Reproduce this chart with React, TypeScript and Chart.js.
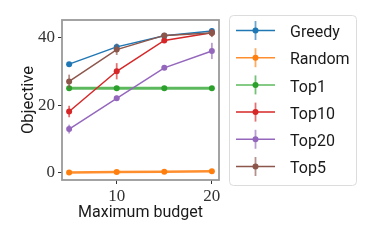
import React, { useEffect, useRef } from "react";
import { Chart, registerables } from "chart.js";

Chart.register(...registerables);

const budgets = [5, 10, 15, 20];
const seriesNames = ["Greedy", "Random", "Top1", "Top10", "Top20", "Top5"];
const greedy = [32.1, 37.2, 40.5, 41.9];
const greedyErr = [0.6, 1.0, 0.6, 0.8];
const random = [0.1, 0.2, 0.3, 0.4];
const randomErr = [0.1, 0.1, 0.1, 0.1];
const top1 = [25, 25, 25, 25];
const top1Err = [0.2, 0.2, 0.2, 0.2];
const top10 = [18.1, 30.0, 39.1, 41.4];
const top10Err = [1.7, 2.4, 0.7, 1.1];
const top20 = [12.9, 22.0, 31.0, 36.0];
const top20Err = [1.3, 0.8, 0.6, 2.4];
const top5 = [27.0, 36.4, 40.6, 41.3];
const top5Err = [2.0, 1.6, 0.6, 1.2];
const yTicks = [0, 20, 40];
const xTicks = [10, 20];

const seriesValues = [greedy, random, top1, top10, top20, top5];
const seriesErrors = [greedyErr, randomErr, top1Err, top10Err, top20Err, top5Err];
const colors = ["#1f77b4", "#ff7f0e", "#2ca02c", "#d62728", "#9467bd", "#8c564b"];
const lineColors = ["#1f77b4", "#ff8f2e", "#5cb85c", "#d62728", "#9467bd", "#8c564b"];
const lineWidths = [1.5, 2.5, 3, 1.5, 1.5, 1.5];

const SANS = "Roboto";
const SERIF = "Liberation Serif";

function rgba(hex: string, a: number) {
  const n = parseInt(hex.slice(1), 16);
  return `rgba(${(n >> 16) & 255},${(n >> 8) & 255},${n & 255},${a})`;
}

const errorBarPlugin = {
  id: "errorBars",
  beforeDatasetDraw(chart: any, args: any) {
    const i = args.index;
    const errs = seriesErrors[i];
    if (!errs) return;
    const ctx = chart.ctx;
    const xs = chart.scales.x;
    const ys = chart.scales.y;
    ctx.save();
    ctx.strokeStyle = rgba(colors[i], 0.65);
    ctx.lineWidth = 1.8;
    seriesValues[i].forEach((v, j) => {
      const px = xs.getPixelForValue(budgets[j]);
      ctx.beginPath();
      ctx.moveTo(px, ys.getPixelForValue(v - errs[j]));
      ctx.lineTo(px, ys.getPixelForValue(v + errs[j]));
      ctx.stroke();
    });
    ctx.restore();
  },
};

const frameLegendPlugin = {
  id: "frameLegend",
  afterDraw(chart: any) {
    const ctx = chart.ctx;
    const a = chart.chartArea;
    ctx.save();
    ctx.strokeStyle = "#9a9a9a";
    ctx.lineWidth = 1.8;
    ctx.strokeRect(a.left, a.top, a.right - a.left, a.bottom - a.top);

    // legend box
    const lx = 229.5, ly = 15.5, lw = 127, lh = 170, r = 4;
    ctx.beginPath();
    ctx.moveTo(lx + r, ly);
    ctx.arcTo(lx + lw, ly, lx + lw, ly + lh, r);
    ctx.arcTo(lx + lw, ly + lh, lx, ly + lh, r);
    ctx.arcTo(lx, ly + lh, lx, ly, r);
    ctx.arcTo(lx, ly, lx + lw, ly, r);
    ctx.closePath();
    ctx.fillStyle = "rgba(255,255,255,0.8)";
    ctx.fill();
    ctx.strokeStyle = "#dcdcdc";
    ctx.lineWidth = 1;
    ctx.stroke();

    seriesNames.forEach((name, i) => {
      const y = 30.5 + i * 27.2;
      ctx.strokeStyle = rgba(colors[i], 0.65);
      ctx.lineWidth = 1.8;
      ctx.beginPath();
      ctx.moveTo(255.5, y - 9.5);
      ctx.lineTo(255.5, y + 9.5);
      ctx.stroke();
      ctx.strokeStyle = lineColors[i];
      ctx.lineWidth = 1.5;
      ctx.beginPath();
      ctx.moveTo(236, y);
      ctx.lineTo(275, y);
      ctx.stroke();
      ctx.fillStyle = colors[i];
      ctx.beginPath();
      ctx.arc(255.5, y, 3, 0, Math.PI * 2);
      ctx.fill();
      ctx.fillStyle = "#1a1a1a";
      ctx.font = `16px ${SANS}`;
      ctx.textAlign = "left";
      ctx.textBaseline = "alphabetic";
      ctx.fillText(name, 290, y + 6.6);
    });
    ctx.restore();
  },
};

export default function App() {
  const ref = useRef<HTMLCanvasElement>(null);
  useEffect(() => {
    if (!ref.current) return;
    const chart = new Chart(ref.current, {
      type: "line",
      data: {
        datasets: seriesNames.map((name, i) => ({
          label: name,
          data: seriesValues[i].map((v, j) => ({ x: budgets[j], y: v })),
          borderColor: lineColors[i],
          backgroundColor: colors[i],
          pointBackgroundColor: colors[i],
          pointBorderColor: colors[i],
          borderWidth: lineWidths[i],
          pointRadius: 3,
          pointBorderWidth: 0,
          tension: 0,
          fill: false,
          order: 5 - i,
        })),
      },
      plugins: [errorBarPlugin, frameLegendPlugin],
      options: {
        animation: false,
        responsive: false,
        devicePixelRatio: 1,
        layout: { padding: { left: 0, top: 20, right: 158, bottom: 0 } },
        plugins: { legend: { display: false }, tooltip: { enabled: false } },
        scales: {
          x: {
            type: "linear",
            min: 4.25,
            max: 20.75,
            afterFit: (s: any) => { s.height = 62; },
            afterBuildTicks: (s: any) => { s.ticks = xTicks.map((v) => ({ value: v })); },
            grid: { display: true, drawOnChartArea: false, tickLength: 4, color: "#333", lineWidth: 1 },
            border: { display: false },
            ticks: { color: "#333", padding: 2, font: { family: SERIF, size: 17 }, maxRotation: 0 },
            title: { display: true, text: "Maximum budget", color: "#1a1a1a", font: { family: SANS, size: 16 }, padding: { top: 0, bottom: 19 } },
          },
          y: {
            type: "linear",
            min: -2.15,
            max: 45.15,
            afterFit: (s: any) => { s.width = 62; },
            afterBuildTicks: (s: any) => { s.ticks = yTicks.map((v) => ({ value: v })); },
            grid: { display: true, drawOnChartArea: false, tickLength: 4, color: "#333", lineWidth: 1 },
            border: { display: false },
            ticks: { color: "#333", padding: 3, font: { family: SERIF, size: 17 } },
            title: { display: true, text: "Objective", color: "#1a1a1a", font: { family: SANS, size: 16.5 }, padding: { top: 19, bottom: 0 } },
          },
        },
      },
    });
    return () => chart.destroy();
  }, []);
  return (
    <div style={{ position: "absolute", left: 0, top: 0, width: 377, height: 242 }}>
      <canvas ref={ref} width={377} height={242} style={{ width: 377, height: 242 }} />
    </div>
  );
}
